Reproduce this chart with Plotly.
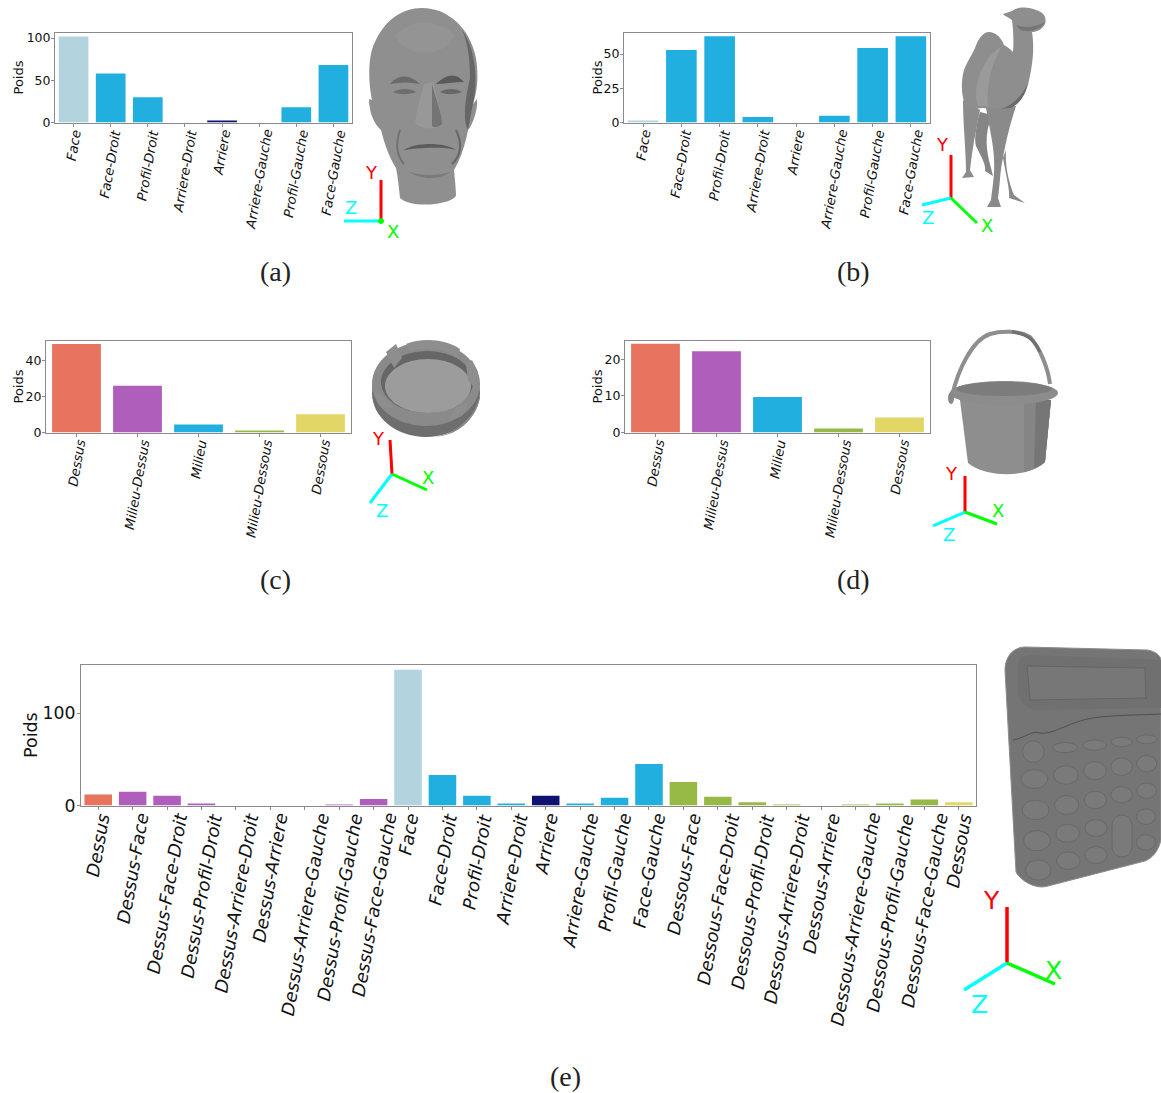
import re
import plotly.graph_objects as go

W, H = 1161, 1093

# ---------- data ----------
cats_a = ["Face", "Face-Droit", "Profil-Droit", "Arriere-Droit", "Arriere", "Arriere-Gauche", "Profil-Gauche", "Face-Gauche"]
vals_a = [102, 58, 30, 0, 1.5, 0, 18, 68]
vals_b = [1.5, 53, 63, 4, 0, 5, 54.5, 63]
cats_c = ["Dessus", "Milieu-Dessus", "Milieu", "Milieu-Dessous", "Dessous"]
vals_c = [49.3, 26, 4.5, 1, 10.2]
vals_d = [24.2, 22.2, 9.7, 1.1, 4.1]
cats_e = ["Dessus", "Dessus-Face", "Dessus-Face-Droit", "Dessus-Profil-Droit", "Dessus-Arriere-Droit", "Dessus-Arriere",
          "Dessus-Arriere-Gauche", "Dessus-Profil-Gauche", "Dessus-Face-Gauche", "Face", "Face-Droit", "Profil-Droit",
          "Arriere-Droit", "Arriere", "Arriere-Gauche", "Profil-Gauche", "Face-Gauche", "Dessous-Face", "Dessous-Face-Droit",
          "Dessous-Profil-Droit", "Dessous-Arriere-Droit", "Dessous-Arriere", "Dessous-Arriere-Gauche", "Dessous-Profil-Gauche",
          "Dessous-Face-Gauche", "Dessous"]
vals_e = [12, 15, 10.5, 1.5, 0, 0, 0, 0.5, 7, 147, 33, 10.5, 1.5, 10.5, 1.5, 8.5, 45, 25.5, 9.5, 3.5, 0.7, 0, 1, 1.5, 6.5, 3.5]

SALMON, PURPLE, BLUE, GREEN, YELLOW, PALE, NAVY = "#E8745F", "#B05EBB", "#21AFE0", "#97BA47", "#E2D766", "#B3D4DF", "#101270"


def colour(c):
    if c == "Dessus":
        return SALMON
    if c == "Dessous":
        return YELLOW
    if c == "Milieu-Dessus":
        return PURPLE
    if c == "Milieu-Dessous":
        return GREEN
    if c == "Face":
        return PALE
    if c == "Arriere":
        return NAVY
    if c.startswith("Dessus"):
        return PURPLE
    if c.startswith("Dessous"):
        return GREEN
    return BLUE


panels = [
    # cats, vals, (left, right, top, bottom), ymax, yticks, tick font, x label font, title font, title centre px
    (cats_a, vals_a, (55, 352, 32.5, 122.5), 106.6, [0, 50, 100], 12.5, 13.2, 13, 18),
    (cats_a, vals_b, (624, 930, 32.5, 122.5), 65.8, [0, 25, 50], 12.5, 13.2, 13, 597),
    (cats_c, vals_c, (46, 351, 340.5, 432.5), 51.2, [0, 20, 40], 12.5, 13.2, 13, 18),
    (cats_c, vals_d, (625, 930, 340.5, 432.5), 25.1, [0, 10, 20], 12.5, 13.2, 13, 597),
    (cats_e, vals_e, (81, 976, 664.5, 805.5), 152.6, [0, 100], 17.3, 17.8, 17.5, 31),
]

fig = go.Figure()
FONT = "DejaVu Sans"
annos = []
for i, (cats, vals, (l, r, t, b), ymax, yt, fs, ls, ts, tx) in enumerate(panels, 1):
    s = "" if i == 1 else str(i)
    fig.add_trace(go.Bar(x=cats, y=vals, xaxis="x" + s, yaxis="y" + s, width=0.8, showlegend=False,
                         marker=dict(color=[colour(c) for c in cats], line=dict(width=0))))
    fig.layout["xaxis" + s] = dict(
        domain=[l / W, r / W], anchor="y" + s, type="category", categoryorder="array", categoryarray=cats,
        tickmode="array", tickvals=cats, showticklabels=False, automargin=False,
        range=[-0.5, len(cats) - 0.5], ticks="outside", ticklen=3, tickcolor="#8A8A8A", tickwidth=1,
        showgrid=False, zeroline=False, showline=True, mirror=True, linecolor="#8A8A8A", linewidth=1)
    fig.layout["yaxis" + s] = dict(
        domain=[1 - b / H, 1 - t / H], anchor="x" + s, range=[0, ymax], tickmode="array", tickvals=yt,
        ticks="outside", ticklen=3, tickcolor="#8A8A8A", tickwidth=1, automargin=False, ticklabelstandoff=-2,
        tickfont=dict(family=FONT, size=fs, color="#111"),
        showgrid=False, zeroline=False, showline=True, mirror=True, linecolor="#8A8A8A", linewidth=1)
    annos.append(dict(x=tx / W, xref="paper", y=0.5, yref=f"y{s} domain", text="Poids", textangle=-90, showarrow=False,
                      xanchor="center", yanchor="middle", font=dict(family=FONT, size=ts, color="#111")))
    for c in cats:
        # rotated labels centred under their tick
        annos.append(dict(x=c, xref="x" + s, y=0, yref=f"y{s} domain", yanchor="top", xanchor="center", yshift=-5,
                          text=c, textangle=-80, showarrow=False, borderpad=0,
                          font=dict(family=FONT, size=ls, color="#111", style="italic")))

# ---------- illustrations drawn in pixel coordinates ----------
shapes = []


def conv(path):
    n = [0]

    def rep(m):
        v = float(m.group(0))
        n[0] += 1
        return f"{v / W:.5f}" if n[0] % 2 else f"{1 - v / H:.5f}"

    return re.sub(r"-?\d+\.?\d*", rep, path)


def path(d, fill=None, line=None, lw=0):
    shapes.append(dict(type="path", xref="paper", yref="paper", path=conv(d), layer="above",
                       fillcolor=fill or "rgba(0,0,0,0)",
                       line=dict(color=line or "rgba(0,0,0,0)", width=lw)))


def ell(cx, cy, rx, ry, fill=None, line=None, lw=0):
    k = 0.5523
    d = (f"M {cx - rx} {cy} C {cx - rx} {cy - k * ry} {cx - k * rx} {cy - ry} {cx} {cy - ry} "
         f"C {cx + k * rx} {cy - ry} {cx + rx} {cy - k * ry} {cx + rx} {cy} "
         f"C {cx + rx} {cy + k * ry} {cx + k * rx} {cy + ry} {cx} {cy + ry} "
         f"C {cx - k * rx} {cy + ry} {cx - rx} {cy + k * ry} {cx - rx} {cy} Z")
    path(d, fill, line, lw)


def triad(o, y, z, x, ly, lz, lx, size=18, lw=3):
    for end, col in ((y, "#FF0000"), (z, "#00FFFF"), (x, "#00FF00")):
        path(f"M {o[0]} {o[1]} L {end[0]} {end[1]}", None, col, lw)
    for pos, txt, col in ((ly, "Y", "#FF0000"), (lz, "Z", "#00FFFF"), (lx, "X", "#00FF00")):
        annos.append(dict(x=pos[0] / W, y=1 - pos[1] / H, xref="paper", yref="paper", text=txt, showarrow=False,
                          font=dict(family=FONT, size=size, color=col), xanchor="center", yanchor="middle"))


# head (a)
path("M 422 8 C 448 8 470 28 476 58 C 479 78 477 92 473 104 L 477 99 C 478 110 473 124 468 130 C 465 146 460 160 454 170 "
     "C 455 180 456 190 456 196 C 448 206 410 208 400 198 C 399 188 398 178 396 168 C 388 155 384 142 381 130 "
     "C 374 124 369 112 369 99 L 372 100 C 368 80 368 55 375 42 C 385 20 402 8 422 8 Z", "#8F8F8F")
path("M 462 30 C 474 45 479 78 473 104 L 468 130 C 462 118 466 96 470 78 C 470 60 468 42 462 30 Z", "#666666")
path("M 395 36 C 410 18 440 18 455 36 C 445 58 405 58 395 36 Z", "#949494")
path("M 390 84 C 400 72 412 76 420 84 C 410 82 400 82 390 84 Z", "#6A6A6A")
path("M 436 84 C 446 74 456 72 464 82 C 454 82 444 84 436 84 Z", "#5A5A5A")
path("M 393 92 C 400 88 410 88 416 92 C 408 95 400 95 393 92 Z", "#6E6E6E")
path("M 440 92 C 446 88 456 88 462 92 C 454 95 446 95 440 92 Z", "#676767")
path("M 424 84 C 420 100 414 118 416 124 C 424 130 436 130 442 124 C 440 110 436 95 434 82 Z", "#989898")
path("M 432 84 C 436 100 442 114 442 124 C 438 128 434 128 432 126 Z", "#747474")
path("M 404 150 C 415 142 445 142 456 150 C 445 146 415 148 404 150 Z", "#5C5C5C")
path("M 400 130 C 396 142 396 155 404 164", None, "#727272", 2)
path("M 456 130 C 462 142 462 155 452 164", None, "#666666", 2)
path("M 410 172 C 420 180 440 180 450 172 C 440 176 420 176 410 172 Z", "#7A7A7A")
# camel (b): legs, body, neck and head
path("M 963 100 C 963 125 966 150 966 172 L 962 178 L 974 177 L 970 170 C 972 150 976 130 980 110 Z", "#8C8C8C")
path("M 980 112 C 976 125 974 140 976 146 C 982 158 986 165 985 171 L 993 176 L 991 168 C 986 150 984 135 992 115 Z", "#858585")
path("M 986 108 C 990 130 994 148 994 160 C 995 175 992 190 991 200 L 987 207 L 1001 207 L 998 198 C 1000 185 1000 170 1003 158 "
     "C 1006 140 1010 125 1016 106 Z", "#8A8A8A")
path("M 1003 158 C 1006 175 1010 190 1009 198 L 1025 203 L 1014 195 C 1008 180 1005 165 1006 150 Z", "#888888")
path("M 1003 14 L 1012 11 C 1018 6 1030 7 1036 10 C 1044 12 1047 18 1045 24 C 1042 30 1036 32 1032 32 "
     "C 1034 45 1034 60 1028 85 C 1024 98 1016 106 1010 108 C 1000 110 990 108 982 108 C 974 110 968 108 965 104 "
     "C 961 95 961 80 964 70 C 968 60 972 55 975 48 C 979 36 985 31 990 32 C 998 33 1002 40 1004 45 C 1008 47 1011 50 1013 52 "
     "C 1014 40 1013 28 1012 20 C 1008 17 1004 16 1003 14 Z", "#8E8E8E")
path("M 978 106 C 972 90 980 60 1002 46 C 994 60 986 80 988 106 Z", "#9A9A9A")
path("M 1000 109 C 1012 106 1022 96 1027 85 C 1026 95 1018 106 1010 108 Z", "#6A6A6A")
path("M 1016 25 C 1024 28 1034 28 1045 22 C 1040 30 1030 33 1020 30 Z", "#767676")
# ashtray (c)
ell(426, 393, 54, 44, "#6E6E6E")
path("M 430 437 C 455 437 478 415 480 392 L 480 398 C 475 420 458 437 430 437 Z", "#8A8A8A")
ell(426, 384, 54, 42, "#8A8A8A")
ell(427, 382, 46, 31, "#666666")
ell(428, 386, 43, 27, "#9C9C9C")
for d in ("M 374 392 L 386 398 L 394 408 L 382 408 C 378 404 375 398 374 392 Z",
          "M 386 352 L 396 344 L 402 358 L 394 368 Z",
          "M 406 344 C 420 338 445 338 460 349 L 458 358 C 445 348 420 346 410 352 Z",
          "M 466 364 L 472 360 L 478 372 L 478 392 L 468 380 Z",
          "M 448 420 L 456 408 L 470 402 L 462 416 Z"):
    path(d, "#8E8E8E")
# bucket (d)
path("M 952 396 C 958 370 972 340 990 334 C 1000 331 1018 330 1030 337 C 1040 348 1048 368 1050 384", None, "#8E8E8E", 4)
path("M 1012 332 C 1025 333 1035 340 1040 352", None, "#707070", 3)
path("M 960 400 L 968 463 C 985 478 1030 478 1045 462 L 1051 400 Z", "#8E8E8E")
path("M 1024 400 L 1051 400 L 1045 462 C 1040 466 1032 470 1024 472 Z", "#858585")
path("M 1036 400 L 1051 400 L 1045 462 C 1042 465 1038 467 1034 468 Z", "#767676")
ell(1004, 393, 54, 12, "#8C8C8C")
ell(1004, 389, 48, 7, "#7C7C7C")
ell(951, 398, 3, 6, "#888888")
# calculator (e)
path("M 1005 670 C 1005 655 1015 647 1025 647 L 1147 650 C 1155 651 1161 656 1161 660 L 1161 840 C 1158 852 1152 858 1145 861 "
     "L 1048 886 C 1035 890 1020 880 1016 872 Z", "#757575", "#8C8C8C", 1)
path("M 1018 665 C 1018 658 1025 655 1030 655 L 1161 660 L 1161 708 L 1035 710 C 1025 708 1018 700 1018 690 Z", "#707070")
path("M 1027 666 L 1145 668 L 1146 698 L 1030 700 Z", "#777777", "#646464", 1)
path("M 1013 740 C 1025 738 1032 730 1040 733 C 1055 735 1070 720 1100 717 C 1120 715 1140 715 1161 714", None, "#505050", 1)
btn = [(220, 335, 32, 32), (315, 323, 37, 15), (404, 315, 35, 15), (485, 306, 32, 14), (560, 298, 30, 13),
       (223, 417, 40, 28), (318, 405, 37, 27), (405, 392, 34, 27), (485, 380, 32, 26), (560, 371, 30, 24),
       (227, 510, 40, 29), (320, 495, 36, 28), (406, 480, 33, 26), (485, 464, 32, 24), (560, 452, 29, 23),
       (231, 602, 40, 30), (323, 580, 35, 27), (408, 564, 33, 25), (558, 530, 28, 23),
       (235, 690, 38, 30), (325, 662, 35, 26), (408, 645, 33, 25), (558, 607, 28, 23)]
for bx, by, brx, bry in btn:
    ell(960 + bx / 3, 640 + by / 3, brx / 3, bry / 3, "#7A7A7A", "#696969", 1)
path("M 1112 826 C 1112 820 1116 815 1122 815 C 1128 815 1132 820 1132 826 L 1132 846 C 1132 852 1128 857 1122 857 "
     "C 1116 857 1112 852 1112 846 Z", "#7A7A7A", "#696969", 1)

triad((381, 221), (381, 180), (344, 221), (382, 221), (371, 173), (351, 208), (393, 231))
ell(381, 221, 3, 3, "#00FF00")
triad((951, 198), (951, 155), (922, 205), (977, 223), (942, 145), (928, 217), (987, 225))
triad((392, 474), (390, 440), (370, 503), (427, 490), (378, 438), (382, 511), (428, 477))
triad((965, 512), (965, 476), (933, 526), (997, 524), (951, 473), (949, 534), (998, 510))
triad((1007, 963), (1007, 907), (964, 990), (1055, 984), (991, 900), (979, 1004), (1053, 970), size=25, lw=3.5)

for txt, cx, cy in (("(a)", 275, 271), ("(b)", 853, 271), ("(c)", 275, 579), ("(d)", 853, 579), ("(e)", 565, 1076)):
    annos.append(dict(x=cx / W, y=1 - cy / H, xref="paper", yref="paper", text=txt, showarrow=False,
                      font=dict(family="Liberation Serif", size=28, color="#222"), xanchor="center", yanchor="middle"))

fig.update_layout(width=W, height=H, margin=dict(l=0, r=0, t=0, b=0, pad=0, autoexpand=False), paper_bgcolor="white",
                  plot_bgcolor="white", showlegend=False, shapes=shapes, annotations=annos, bargap=0.2)
fig.write_html("out.html", config=dict(displayModeBar=False),
               post_script="document.body.style.margin='0';document.body.style.overflow='hidden';")
